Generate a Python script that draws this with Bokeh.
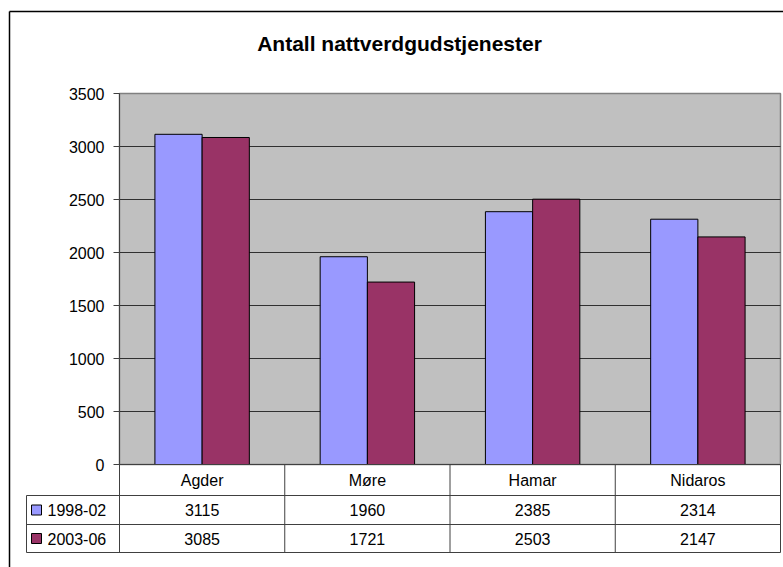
from bokeh.plotting import figure
from bokeh.models import Range1d, FixedTicker
from bokeh.core.properties import value
from bokeh.embed import file_html
from bokeh.resources import INLINE

# ---- data ----
title_text = "Antall nattverdgudstjenester"
categories = ["Agder", "Møre", "Hamar", "Nidaros"]
series_names = ["1998-02", "2003-06"]
values_1998_02 = [3115, 1960, 2385, 2314]
values_2003_06 = [3085, 1721, 2503, 2147]
y_ticks = [0, 500, 1000, 1500, 2000, 2500, 3000, 3500]
series_colors = ["#9999FF", "#993366"]

# ---- layout constants (page pixels) ----
W, H = 783, 567
ORIGIN = 0
AX_X = 119          # left edge of plot area
CAT_PX = 165.25     # width of one category
ZERO_Y = 464        # baseline
TOP_Y = 93          # top of plot area
YMAX = y_ticks[-1]
PPU = (ZERO_Y - TOP_Y) / YMAX
FONT = "Liberation Sans"
LINE = "#404040"


def xd(px):
    return (px - AX_X) / CAT_PX


def yd(py):
    return (ZERO_Y - py) / PPU


n = len(categories)
p = figure(width=W, height=H,
           x_range=Range1d(xd(ORIGIN), xd(ORIGIN + W)),
           y_range=Range1d(yd(ORIGIN + H), yd(ORIGIN)),
           x_axis_type=None, output_backend="svg", toolbar_location=None,
           min_border=0)
p.outline_line_color = None
p.ygrid.visible = False
p.background_fill_color = "white"
p.border_fill_color = "white"

# outer chart border (left and top visible)
p.segment(x0=[xd(9), xd(9)], y0=[yd(11), yd(11)],
          x1=[xd(9), xd(ORIGIN + W + 5)], y1=[yd(ORIGIN + H + 5), yd(11)],
          line_color="black", line_width=1.5)

# plot area
p.quad(left=0, right=n, bottom=0, top=YMAX, fill_color="#C0C0C0",
       line_color="#808080", line_width=1.5)
grid_vals = y_ticks[1:-1]
p.segment(x0=[0] * len(grid_vals), x1=[n] * len(grid_vals),
          y0=grid_vals, y1=grid_vals, line_color="#303030", line_width=1)

# bars (gap width 150%)
bw = 1 / 3.5
for k, vals in enumerate([values_1998_02, values_2003_06]):
    xs = [i + 0.5 + (k - 0.5) * bw for i in range(n)]
    p.vbar(x=xs, width=bw, bottom=0, top=vals, fill_color=series_colors[k],
           line_color="black", line_width=1)

# y axis
ax = p.yaxis[0]
ax.fixed_location = 0
ax.bounds = (0, YMAX)
ax.ticker = FixedTicker(ticks=y_ticks)
ax.minor_tick_line_color = None
ax.major_tick_out = 6
ax.major_tick_in = 0
ax.major_label_standoff = 9
ax.major_label_text_font = FONT
ax.major_label_text_font_size = "16px"
ax.major_label_text_color = "black"
ax.axis_line_color = LINE
ax.major_tick_line_color = LINE

# data table
row_edges = [495, 524, 552]
tbl_left = xd(26)
hx0 = [0] + [tbl_left] * len(row_edges)
hy = [0] + [yd(r) for r in row_edges]
p.segment(x0=hx0, x1=[n] * len(hy), y0=hy, y1=hy, line_color=LINE, line_width=1)
vx = list(range(n + 1)) + [tbl_left]
vy0 = [0] * (n + 1) + [yd(row_edges[0])]
p.segment(x0=vx, x1=vx, y0=vy0, y1=[yd(row_edges[-1])] * len(vx),
          line_color=LINE, line_width=1)

cx = [i + 0.5 for i in range(n)]
p.text(x=cx, y=[yd(479.5)] * n, text=categories, text_align="center",
       text_baseline="middle", text_font=value(FONT), text_font_size="16px",
       text_color="black")
row_centers = [yd(509.5), yd(538)]
for k, vals in enumerate([values_1998_02, values_2003_06]):
    p.text(x=cx, y=[row_centers[k]] * n, text=[str(v) for v in vals],
           text_align="center", text_baseline="middle", text_font=value(FONT),
           text_font_size="16px", text_color="black")

p.scatter(x=[xd(36)] * 2, y=row_centers, marker="square", size=10,
          fill_color=series_colors, line_color="black", line_width=1)
p.text(x=[xd(47)] * 2, y=row_centers, text=series_names, text_align="left",
       text_baseline="middle", text_font=value(FONT), text_font_size="16px",
       text_color="black")

# title
p.text(x=[xd(399)], y=[yd(43)], text=[title_text], text_align="center",
       text_baseline="middle", text_font=value(FONT), text_font_size="21px",
       text_font_style="bold", text_color="black")

open("out.html", "w").write(file_html(p, INLINE))
